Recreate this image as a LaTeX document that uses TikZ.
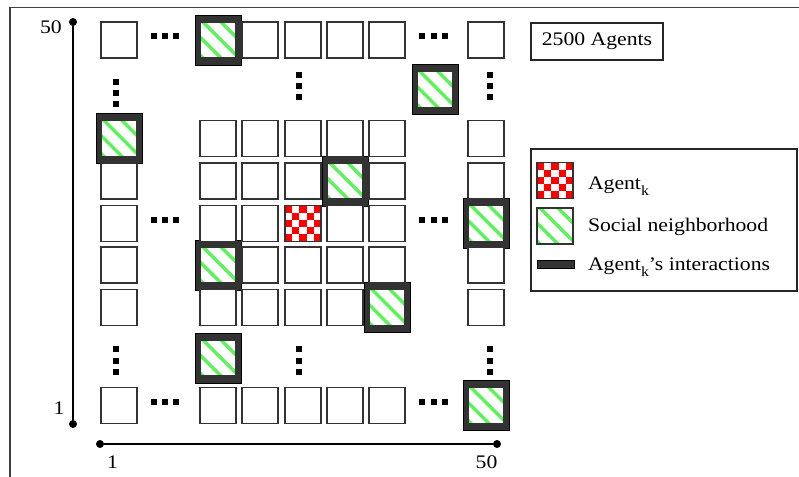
\documentclass[tikz,border=0pt]{standalone}
\usepackage{fontspec}
\setmainfont{Liberation Serif}[FakeStretch=1.13]
\usetikzlibrary{calc}
\definecolor{framegray}{HTML}{333333}
\definecolor{hoodgreen}{HTML}{5CF25C}
\definecolor{checkred}{HTML}{FF0000}
% lowered index k
\newcommand\agsub{\raisebox{-3pt}{\fontsize{7pt}{8pt}\selectfont k}}
\begin{document}
\begin{tikzpicture}[x=0.5pt,y=-0.5pt,
  every node/.style={font=\fontsize{9.6pt}{11.5pt}\selectfont, inner sep=0pt, outer sep=0pt},
  cell/.style={draw=black!80, line width=0.7pt, fill=white, minimum size=18pt},
  hood/.style={cell, path picture={
      \foreach \c in {-33,-15,3,21}
        \draw[hoodgreen, line width=1.7pt]
          ($(path picture bounding box.north west)+(\c-8,-8)$) -- ++(60,60);}},
  checker/.style={cell, path picture={
      \foreach \i in {0,...,4}
        \foreach \j in {0,...,4}{
          \pgfmathtruncatemacro{\chkpar}{mod(\i+\j,2)}
          \ifnum\chkpar=0
            \fill[checkred] ($(path picture bounding box.north west)+(7.2*\i,7.2*\j)$) rectangle ++(7.2,7.2);
          \fi}}},
  hoodframe/.style={fill=framegray, draw=black, line width=0.4pt,
      minimum width=23pt, minimum height=25pt},
  dotsq/.style={fill=black, minimum size=3pt},
  axdot/.style={circle, fill=black, minimum size=4pt},
  axline/.style={draw=black, line width=0.6pt},
  border/.style={draw=black!75, line width=0.75pt}]

\useasboundingbox (0,0) rectangle (799,477);

% outer frame (top and left sides)
\coordinate (frTL) at (10,7.5);
\coordinate (frTR) at (805,7.5);
\coordinate (frBL) at (10,485);
\draw[border] (frTR) -- (frTL) -- (frBL);

% axes
\node[axdot] (ytop) at (73,22) {};
\node[axdot] (ybot) at (73,424) {};
\draw[axline] (ytop) -- (ybot);
\node[axdot] (xleft) at (100,444) {};
\node[axdot] (xright) at (497,444) {};
\draw[axline] (xleft) -- (xright);
\node (ylab50) at (51,27) {50};
\node (ylab1) at (59,408) {1};
\node (xlab1) at (112.5,462) {1};
\node (xlab50) at (486.5,462) {50};

% dark frames of the interacting neighbours
\node[hoodframe] (fA3) at (218,40) {};
\node[hoodframe] (fU8) at (435,89.5) {};
\node[hoodframe] (fB1) at (119,138.5) {};
\node[hoodframe] (fC6) at (345,181) {};
\node[hoodframe] (fD9) at (486,223.5) {};
\node[hoodframe] (fE3) at (218,265) {};
\node[hoodframe] (fF7) at (387,307.5) {};
\node[hoodframe] (fL3) at (218,358) {};
\node[hoodframe] (fG9) at (486,405.5) {};

% plain cells, row by row
\foreach \c/\x in {1/119,4/260,5/303,6/345,7/387,9/486}
  \node[cell] (A\c) at (\x,40) {};
\foreach \c/\x in {3/218,4/260,5/303,6/345,7/387,9/486}
  \node[cell] (B\c) at (\x,138.5) {};
\foreach \c/\x in {1/119,3/218,4/260,5/303,7/387,9/486}
  \node[cell] (C\c) at (\x,181) {};
\foreach \c/\x in {1/119,3/218,4/260,6/345,7/387}
  \node[cell] (D\c) at (\x,223.5) {};
\foreach \c/\x in {1/119,4/260,5/303,6/345,7/387,9/486}
  \node[cell] (E\c) at (\x,265) {};
\foreach \c/\x in {1/119,3/218,4/260,5/303,6/345,9/486}
  \node[cell] (F\c) at (\x,307.5) {};
\foreach \c/\x in {1/119,3/218,4/260,5/303,6/345,7/387}
  \node[cell] (G\c) at (\x,405.5) {};

% the agent and its social neighbourhood
\node[checker] (D5) at (303,223.5) {};
\node[hood] (A3) at (218,40) {};
\node[hood] (U8) at (435,89.5) {};
\node[hood] (B1) at (119,138.5) {};
\node[hood] (C6) at (345,181) {};
\node[hood] (D9) at (486,223.5) {};
\node[hood] (E3) at (218,265) {};
\node[hood] (F7) at (387,307.5) {};
\node[hood] (L3) at (218,358) {};
\node[hood] (G9) at (486,405.5) {};

% horizontal ellipses
\foreach \r/\y in {A/36,D/220,G/402}{
  \foreach \k/\x in {1/154,2/165,3/176}
    \node[dotsq] (hl\r\k) at (\x,\y) {};
  \foreach \k/\x in {1/422,2/433.5,3/445}
    \node[dotsq] (hr\r\k) at (\x,\y) {};
}
% vertical ellipses
\foreach \k/\y in {1/82,2/93,3/104}
  \node[dotsq] (vu1\k) at (116,\y) {};
\foreach \k/\y in {1/75,2/86,3/97}{
  \node[dotsq] (vu5\k) at (299,\y) {};
  \node[dotsq] (vu9\k) at (489.5,\y) {};
}
\foreach \k/\y in {1/349,2/360.5,3/372}{
  \node[dotsq] (vl1\k) at (116,\y) {};
  \node[dotsq] (vl5\k) at (299,\y) {};
  \node[dotsq] (vl9\k) at (489.5,\y) {};
}

% population box
\node[draw=black!85, line width=0.6pt, minimum width=66pt, minimum height=18.5pt]
  (pop) at (597,41.5) {2500 Agents};

% legend
\node[draw=black!85, line width=0.6pt, minimum width=133pt, minimum height=71pt,
  anchor=north west] (legend) at (531,149) {};
\node[checker] (lgA) at (555,180.5) {};
\node[hood] (lgS) at (555,226) {};
\node[fill=framegray, draw=black, line width=0.4pt, minimum width=18.5pt,
  minimum height=4pt] (lgI) at (555.5,264) {};
\node[anchor=base west] (lgAt) at (588,189.5) {Agent\agsub};
\node[anchor=base west] (lgSt) at (588,231) {Social neighborhood};
\node[anchor=base west] (lgIt) at (588,270.5) {Agent\agsub’s interactions};
\end{tikzpicture}
\end{document}
